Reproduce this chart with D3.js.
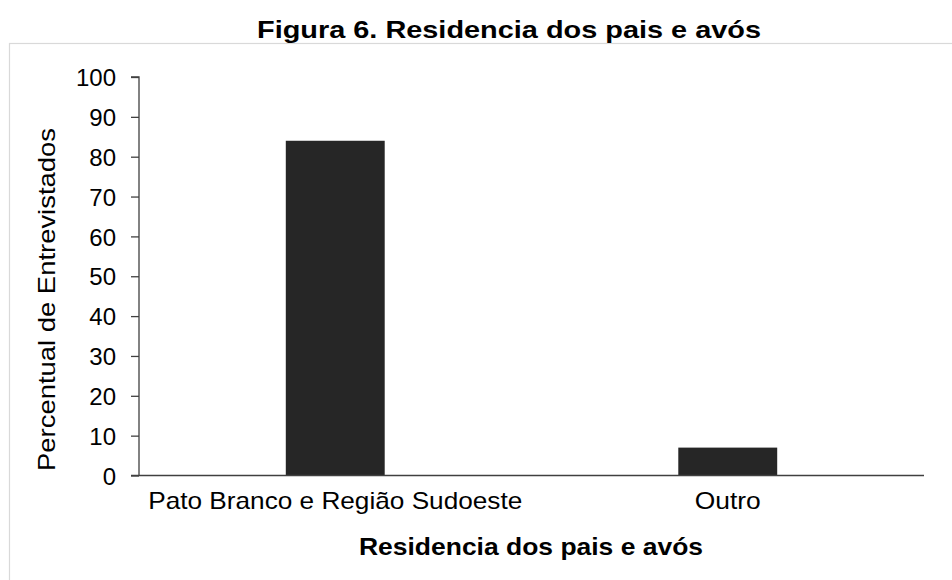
<!DOCTYPE html>
<html><head><meta charset="utf-8">
<script src="https://cdn.jsdelivr.net/npm/d3@7"></script>
<style>body{margin:0;background:#fff}svg{display:block}text{font-family:"Liberation Sans",Arial,sans-serif}</style>
</head><body><svg id="c" width="952" height="580"></svg>
<script>
const categories = ["Pato Branco e Região Sudoeste", "Outro"];
const values = [84, 7];
const yTicks = [0,10,20,30,40,50,60,70,80,90,100];
const title = "Figura 6. Residencia dos pais e avós";
const xTitle = "Residencia dos pais e avós";
const yTitle = "Percentual de Entrevistados";

const svg = d3.select("#c");
// chart-area frame
svg.append("rect").attr("x",9.5).attr("y",43.5).attr("width",960).attr("height",560)
  .attr("fill","none").attr("stroke","#d9d9d9").attr("stroke-width",1.2);

const x0=139, x1=924, yTop=77, yBot=475.5;
const x = d3.scaleBand().domain(categories).range([x0,x1]).paddingInner(0.748).paddingOuter(0.374);
const y = d3.scaleLinear().domain([0,100]).range([yBot,yTop]);

svg.selectAll("rect.bar").data(values).join("rect").attr("class","bar")
  .attr("x",(d,i)=>x(categories[i])).attr("width",x.bandwidth())
  .attr("y",d=>y(d)).attr("height",d=>y(0)-y(d)).attr("fill","#262626");

const ya = svg.append("g").attr("transform",`translate(${x0},0)`)
  .call(d3.axisLeft(y).tickValues(yTicks).tickSize(8).tickPadding(15));
ya.select(".domain").attr("stroke","#404040").attr("stroke-width",1.3).attr("d",`M-8,${yTop}H0V${yBot}`);
ya.selectAll(".tick line").attr("stroke","#404040").attr("stroke-width",1.3);
ya.selectAll(".tick text").attr("font-size",24).attr("fill","#000").attr("dy","0.36em");

const catLen = {"Pato Branco e Região Sudoeste":374, "Outro":66};
const xa = svg.append("g").attr("transform",`translate(0,${yBot})`)
  .call(d3.axisBottom(x).tickSize(0).tickPadding(16));
xa.select(".domain").attr("stroke","#404040").attr("stroke-width",1.3).attr("d",`M${x0-8},0H${x1}`);
xa.selectAll(".tick text").attr("font-size",24).attr("fill","#000")
  .attr("textLength",d=>catLen[d]).attr("lengthAdjust","spacingAndGlyphs");

svg.append("text").attr("x",509).attr("y",38).attr("text-anchor","middle")
  .attr("font-size",24).attr("font-weight","bold")
  .attr("textLength",504).attr("lengthAdjust","spacingAndGlyphs").text(title);
svg.append("text").attr("x",531).attr("y",555).attr("text-anchor","middle")
  .attr("font-size",24).attr("font-weight","bold")
  .attr("textLength",344).attr("lengthAdjust","spacingAndGlyphs").text(xTitle);
svg.append("text").attr("transform",`translate(55,299.5) rotate(-90)`).attr("text-anchor","middle")
  .attr("font-size",24).attr("textLength",343).attr("lengthAdjust","spacingAndGlyphs").text(yTitle);
</script></body></html>
